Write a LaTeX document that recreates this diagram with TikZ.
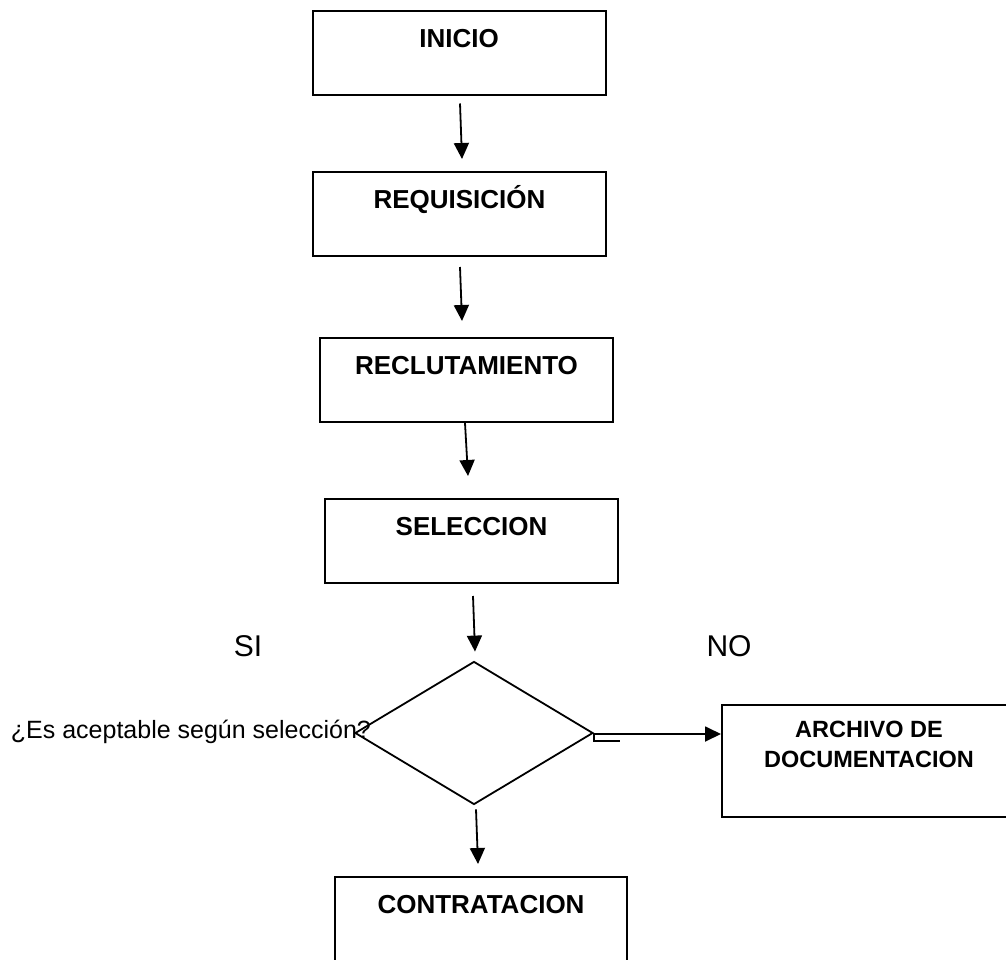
\documentclass[tikz,border=0pt]{standalone}
\usepackage{fontspec}
\setmainfont{Liberation Sans}
\usetikzlibrary{shapes.geometric,arrows.meta,positioning}
\tikzset{
    process-box/.style = {draw=black, fill=white, line width=2pt, rectangle, minimum width=293pt, inner xsep=0pt, inner ysep=17pt, text height=19pt, text depth=31pt, font=\fontsize{26}{31}\selectfont\bfseries},
    process-box-title/.style = {inner sep=0pt, align=center, font=\fontsize{23.5}{30}\selectfont\bfseries},
    decision-box/.style = {draw=black, line width=1.8pt, diamond, inner sep=0pt, minimum width=238pt, minimum height=143pt},
    flow-arrow/.style = {line width=1.8pt, -{Triangle[length=16pt, width=15pt]}},
    branch-label/.style = {inner sep=0pt, font=\fontsize{30}{36}\selectfont},
    question-label/.style = {inner sep=0pt, font=\fontsize{25}{30}\selectfont},
}

\begin{document}
\begin{tikzpicture}[x=1pt, y=-1pt]
\useasboundingbox (0,0) rectangle (1006,960);

% cajas del proceso
\node[process-box] (inicio) at (459,53.5) {INICIO};
\node[process-box] (requisicion) at (459.5,214) {REQUISICIÓN};
\node[process-box] (reclutamiento) at (466.5,380) {RECLUTAMIENTO};
\node[process-box] (seleccion) at (471.5,541) {SELECCION};
\node[decision-box] (acepta) at (474,733) {};
\node[process-box, minimum width=290pt, minimum height=112pt, text height=0pt, text depth=0pt] (archivo) at (867,761) {};
\node[process-box-title, below=16.5pt of archivo.north, xshift=2pt] (archivo-title) {ARCHIVO DE\\DOCUMENTACION};
\node[process-box, minimum width=292pt, text depth=70pt] (contratacion) at (481,938.5) {CONTRATACION};

% textos sueltos
\node[branch-label] (si) at (248,646.5) {SI};
\node[branch-label] (no) at (729,646.5) {NO};
\node[question-label, anchor=base east] (pregunta) at ([xshift=17pt, yshift=-5pt]acepta.west) {¿Es aceptable según selección?};

% flechas
\draw[flow-arrow] ([xshift=1pt, yshift=-7pt]inicio.south) -- ([xshift=2.5pt, yshift=12pt]requisicion.north);
\draw[flow-arrow] ([xshift=0.5pt, yshift=-10pt]requisicion.south) -- ([xshift=-4.5pt, yshift=16pt]reclutamiento.north);
\draw[flow-arrow] ([xshift=-1.5pt]reclutamiento.south) -- ([xshift=-3.5pt, yshift=22pt]seleccion.north);
\draw[flow-arrow] ([xshift=1.5pt, yshift=-12pt]seleccion.south) -- ([xshift=1pt, yshift=9pt]acepta.north);
\draw[flow-arrow] ([xshift=2pt, yshift=-4pt]acepta.south) -- ([xshift=-3pt, yshift=12pt]contratacion.north);
\draw[flow-arrow] ([yshift=-1pt]acepta.east) -- ([yshift=-1pt]acepta.east -| archivo.west);
\draw[line width=1.8pt] (acepta.east) -- ++(0,8) -- ++(26,0);
\end{tikzpicture}
\end{document}
